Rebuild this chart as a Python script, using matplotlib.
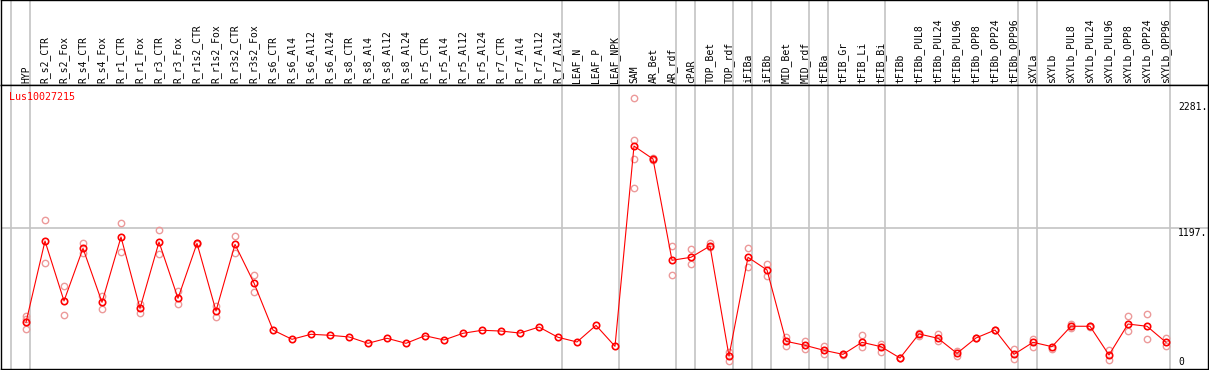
import matplotlib
matplotlib.use('Agg')
import matplotlib.pyplot as plt

# Sample labels (header, rotated)
samples = ['HYP', 'R_s2_CTR', 'R_s2_Fox', 'R_s4_CTR', 'R_s4_Fox', 'R_r1_CTR', 'R_r1_Fox',
           'R_r3_CTR', 'R_r3_Fox', 'R_r1s2_CTR', 'R_r1s2_Fox', 'R_r3s2_CTR', 'R_r3s2_Fox',
           'R_s6_CTR', 'R_s6_Al4', 'R_s6_Al12', 'R_s6_Al24', 'R_s8_CTR', 'R_s8_Al4',
           'R_s8_Al12', 'R_s8_Al24', 'R_r5_CTR', 'R_r5_Al4', 'R_r5_Al12', 'R_r5_Al24',
           'R_r7_CTR', 'R_r7_Al4', 'R_r7_Al12', 'R_r7_Al24', 'LEAF_N', 'LEAF_P', 'LEAF_NPK',
           'SAM', 'AR_Bet', 'AR_rdf', 'cPAR', 'TOP_Bet', 'TOP_rdf', 'iFIBa', 'iFIBb',
           'MID_Bet', 'MID_rdf', 'tFIBa', 'tFIB_Gr', 'tFIB_Li', 'tFIB_Bi', 'tFIBb',
           'tFIBb_PUL8', 'tFIBb_PUL24', 'tFIBb_PUL96', 'tFIBb_OPP8', 'tFIBb_OPP24',
           'tFIBb_OPP96', 'sXYLa', 'sXYLb', 'sXYLb_PUL8', 'sXYLb_PUL24', 'sXYLb_PUL96',
           'sXYLb_OPP8', 'sXYLb_OPP24', 'sXYLb_OPP96']

# mean expression per sample
means = [353, 1083, 545, 1017, 533, 1119, 479, 1074, 569, 1062, 455, 1053, 706,
         284, 201, 246, 237, 222, 165, 210, 165, 233, 195, 255, 282,
         275, 257, 311, 219, 177, 326, 138,
         1935, 1819, 910, 937, 1038, 51, 937, 823,
         183, 147, 102, 66, 174, 135, 33,
         249, 210, 75, 213, 284, 66,
         174, 135, 318, 318, 60, 338, 318, 174]

# individual replicates per sample
replicates = [[410, 383, 291], [1271, 883], [679, 416], [1062, 973], [589, 473],
              [1242, 981], [515, 440], [1182, 964], [634, 515], [1065, 1058],
              [500, 404], [1128, 973], [778, 622],
              [], [], [], [], [], [], [], [], [], [], [], [],
              [], [], [], [], [], [], [],
              [2363, 1989, 1816, 1556], [1825, 1812], [1038, 775], [1011, 874],
              [1062, 1026], [90, 9], [1017, 847], [877, 769],
              [224, 144], [186, 111], [141, 66], [70, 62], [237, 132], [159, 84], [35, 30],
              [255, 231], [246, 186], [99, 54], [216, 210], [287, 281], [117, 22],
              [201, 135], [111], [338, 302], [321, 315], [105, 12], [410, 272],
              [428, 201], [210, 141]]

# group boundaries (index of first sample of each group)
group_starts = [0, 1, 29, 32, 35, 36, 38, 39, 40, 42, 43, 46, 53, 54, 61]

gene = 'Lus10027215'
ref_values = [2281, 1197, 0]
ref_labels = ['2281.', '1197.', '0']

W, H = 1209, 370
fig = plt.figure(figsize=(W / 100, H / 100), dpi=100)
mono = 'DejaVu Sans Mono'
gray = '#c4c4c4'

px_left, px_right = 1, 1208
x0, step = 26, 19
xlim = ((px_left - x0) / step, (px_right - x0) / step)

# header axes
hdr = fig.add_axes([px_left / W, (H - 85) / H, (px_right - px_left) / W, 85 / H])
plot = fig.add_axes([px_left / W, 1 / H, (px_right - px_left) / W, 84 / H * 0 + (369 - 85) / H])

for ax in (hdr, plot):
    ax.set_xlim(*xlim)
    ax.set_xticks([])
    ax.set_yticks([])
    for s in ax.spines.values():
        s.set_color('black')
        s.set_linewidth(1.0)
    for g in group_starts:
        ax.axvline(g - 15 / step, color=gray, lw=1.2, zorder=0)

hdr.set_ylim(0, 85)
for i, name in enumerate(samples):
    hdr.text(i, 2, name, rotation=90, ha='center', va='bottom',
             fontsize=7, family=mono, color='black')

# value axis: 0 at pixel 361.7, 1197 at 228.3
k = (361.7 - 228.3) / 1197
plot.set_ylim(-(369 - 361.7) / k, (361.7 - 85) / k)
plot.axhline(ref_values[1], color=gray, lw=1.2, zorder=0)

xs = list(range(len(samples)))
rx, ry = [], []
for i, reps in enumerate(replicates):
    for v in reps:
        rx.append(i)
        ry.append(v)
plot.plot(rx, ry, 'o', ls='none', ms=4.6, mfc='none', mec='#ec9a9a', mew=1.0, zorder=2)
plot.plot(xs, means, '-', color='red', lw=0.8, zorder=3)
plot.plot(xs, means, 'o', ls='none', ms=4.6, mfc='none', mec='red', mew=1.2, zorder=4)

plot.text((9 - x0) / step, 2481 - (96.7 - 85) / k, gene, ha='left', va='center',
          fontsize=7.2, family=mono, color='red')

lx = (1178 - x0) / step
plot.text(lx, ref_values[0], ref_labels[0], ha='left', va='center', fontsize=7, family=mono)
plot.text(lx, ref_values[1], ref_labels[1], ha='left', va='top', fontsize=7, family=mono)
plot.text(lx, ref_values[2], ref_labels[2], ha='left', va='center', fontsize=7, family=mono)

fig.savefig('out.png', dpi=100)
